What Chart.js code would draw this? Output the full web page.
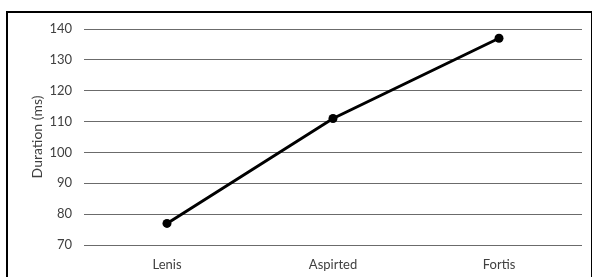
<!DOCTYPE html>
<html>
<head>
<meta charset="utf-8">
<script src="https://cdn.jsdelivr.net/npm/chart.js@4/dist/chart.umd.min.js"></script>
<style>
  html, body { margin: 0; padding: 0; background: #fff; }
  #wrap { position: relative; width: 594px; height: 277px; overflow: hidden; }
  #frame { position: absolute; left: 6px; top: 11px; width: 586px; height: 300px; border: 2px solid #000; border-right-width: 1px; box-sizing: border-box; }
  canvas { position: absolute; left: 0; top: 0; }
</style>
</head>
<body>
<div id="wrap">
  <div id="frame"></div>
  <canvas id="c" width="594" height="277"></canvas>
</div>
<script>
const categories = ["Lenis", "Aspirted", "Fortis"];
const durations = [77, 111, 137];
const yTicks = [70, 80, 90, 100, 110, 120, 130, 140];
const yTitle = "Duration (ms)";

const FONT = "Lato, 'Open Sans', sans-serif";
const TEXT = "#404040";

new Chart(document.getElementById('c'), {
  type: 'line',
  data: {
    labels: categories,
    datasets: [{
      data: durations,
      borderColor: '#000',
      backgroundColor: '#000',
      borderWidth: 3,
      pointRadius: 4.5,
      pointBorderWidth: 0,
      pointBackgroundColor: '#000',
      pointBorderColor: '#000',
      tension: 0,
      fill: false
    }]
  },
  options: {
    responsive: false,
    animation: false,
    devicePixelRatio: 1,
    layout: { padding: { left: 29, right: 12, top: 29, bottom: 0 } },
    plugins: { legend: { display: false }, tooltip: { enabled: false } },
    scales: {
      x: {
        offset: true,
        grid: { display: false, drawTicks: false },
        border: { display: false },
        ticks: { color: TEXT, font: { family: FONT, size: 13 }, padding: 12, maxRotation: 0 },
        afterFit: s => { s.height = 32; }
      },
      y: {
        min: yTicks[0],
        max: yTicks[yTicks.length - 1],
        afterBuildTicks: s => { s.ticks = yTicks.map(v => ({ value: v })); },
        grid: { color: '#6b6b6b', lineWidth: 1, drawTicks: false },
        border: { display: false },
        ticks: { color: TEXT, font: { family: FONT, size: 13 }, padding: 12 },
        title: { display: true, text: yTitle, color: TEXT, font: { family: FONT, size: 14 }, padding: { top: 0, bottom: 0 } },
        afterFit: s => { s.width = 55; }
      }
    }
  }
});
</script>
</body>
</html>
